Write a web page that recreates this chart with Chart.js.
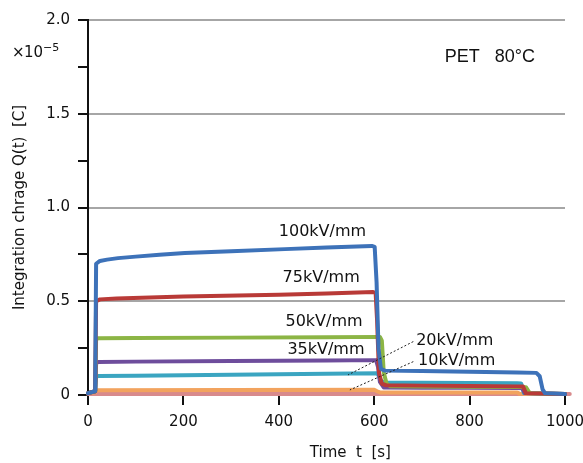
<!DOCTYPE html>
<html>
<head>
<meta charset="utf-8">
<script src="https://cdn.jsdelivr.net/npm/chart.js@4.4.1/dist/chart.umd.min.js"></script>
<style>
  html, body { margin: 0; padding: 0; background: #fff; }
  #wrap { width: 583px; height: 463px; }
</style>
</head>
<body>
<div id="wrap"><canvas id="chart" width="583" height="463"></canvas></div>
<script>
// time points [s] and charge values [x1e-5 C]
const t100 = [0, 15, 17, 25, 40, 63, 100, 150, 203, 300, 413, 500, 595, 601, 605, 609, 614, 622, 700, 800, 900, 940, 947, 953, 958, 1000];
const q100 = [0.01, 0.02, 0.70, 0.715, 0.722, 0.73, 0.738, 0.748, 0.757, 0.767, 0.778, 0.787, 0.795, 0.79, 0.6, 0.25, 0.14, 0.13, 0.128, 0.124, 0.12, 0.118, 0.1, 0.03, 0.01, 0.005];

const t75 = [0, 15, 17, 25, 60, 200, 400, 500, 598, 603, 606, 610, 616, 625, 700, 800, 900, 912, 918, 1000];
const q75 = [0.01, 0.02, 0.5, 0.51, 0.515, 0.525, 0.535, 0.541, 0.549, 0.545, 0.4, 0.12, 0.06, 0.052, 0.05, 0.048, 0.046, 0.045, 0.01, 0.005];

const t50 = [0, 15, 17, 22, 100, 300, 500, 612, 616, 620, 626, 634, 700, 800, 900, 918, 926, 1000];
const q50 = [0.01, 0.02, 0.3, 0.303, 0.304, 0.306, 0.308, 0.31, 0.29, 0.12, 0.06, 0.046, 0.045, 0.044, 0.043, 0.042, 0.01, 0.005];

const t35 = [0, 15, 17, 22, 100, 300, 500, 604, 608, 612, 620, 700, 800, 900, 910, 916, 1000];
const q35 = [0.01, 0.02, 0.17, 0.176, 0.178, 0.181, 0.184, 0.186, 0.15, 0.07, 0.04, 0.039, 0.038, 0.037, 0.036, 0.01, 0.005];

const t20 = [0, 15, 17, 22, 100, 300, 500, 606, 610, 614, 622, 700, 800, 900, 908, 914, 1000];
const q20 = [0.01, 0.02, 0.098, 0.101, 0.103, 0.108, 0.113, 0.116, 0.1, 0.075, 0.066, 0.065, 0.064, 0.063, 0.062, 0.01, 0.005];

const t10 = [0, 15, 17, 300, 600, 606, 612, 900, 905, 1000];
const q10 = [0.01, 0.015, 0.026, 0.027, 0.028, 0.02, 0.014, 0.013, 0.006, 0.005];

const tBase = [0, 1010];
const qBase = [0.006, 0.006];

const seriesLabels = ['100kV/mm', '75kV/mm', '50kV/mm', '35kV/mm', '20kV/mm', '10kV/mm', '0kV/mm'];
const seriesColors = ['#3d72b9', '#b93a37', '#8cb545', '#6e4d9c', '#3ba5c1', '#f2a35e', '#d88a8c'];

// annotation text placed in data coordinates
const notes = [
  { text: '100kV/mm', t: 400, q: 0.87 },
  { text: '75kV/mm', t: 408, q: 0.625 },
  { text: '50kV/mm', t: 414, q: 0.39 },
  { text: '35kV/mm', t: 418, q: 0.24 },
  { text: '20kV/mm', t: 688, q: 0.288 },
  { text: '10kV/mm', t: 692, q: 0.182 }
];
const leaders = [
  { t1: 682, q1: 0.285, t2: 545, q2: 0.107 },
  { t1: 682, q1: 0.178, t2: 549, q2: 0.027 }
];

const FONT = '"DejaVu Sans", sans-serif';

function pts(ts, qs) {
  let out = [];
  for (let i = 0; i < ts.length; i++) out.push({ x: ts[i], y: qs[i] });
  return out;
}

const allSeries = [pts(t100, q100), pts(t75, q75), pts(t50, q50), pts(t35, q35), pts(t20, q20), pts(t10, q10), pts(tBase, qBase)];

const notesPlugin = {
  id: 'notes',
  afterDatasetsDraw(chart) {
    const ctx = chart.ctx;
    const xs = chart.scales.x, ys = chart.scales.y;
    const ca = chart.chartArea;
    ctx.save();
    ctx.fillStyle = '#111';
    ctx.font = '16px ' + FONT;
    ctx.textBaseline = 'middle';
    ctx.textAlign = 'left';
    notes.forEach(n => ctx.fillText(n.text, xs.getPixelForValue(n.t), ys.getPixelForValue(n.q)));

    ctx.strokeStyle = '#222';
    ctx.lineWidth = 1;
    ctx.setLineDash([2, 2]);
    leaders.forEach(l => {
      ctx.beginPath();
      ctx.moveTo(xs.getPixelForValue(l.t1), ys.getPixelForValue(l.q1));
      ctx.lineTo(xs.getPixelForValue(l.t2), ys.getPixelForValue(l.q2));
      ctx.stroke();
    });
    ctx.setLineDash([]);

    ctx.font = '18px "Liberation Sans", sans-serif';
    ctx.fillText('PET   80\u00B0C', xs.getPixelForValue(748), ys.getPixelForValue(1.8));

    // x axis title, sits a bit right of centre in the original
    ctx.font = '15px ' + FONT;
    ctx.textAlign = 'center';
    ctx.fillText('Time  t  [s]', xs.getPixelForValue(550), ca.bottom + 58);

    // exponent under the top tick
    ctx.textAlign = 'left';
    ctx.fillText('\u00D7', ca.left - 76, ca.top + 33);
    ctx.fillText('10', ca.left - 64, ca.top + 33);
    ctx.font = '11px ' + FONT;
    ctx.fillText('\u22125', ca.left - 45, ca.top + 28);
    ctx.restore();
  }
};

new Chart(document.getElementById('chart'), {
  type: 'line',
  data: {
    datasets: allSeries.map((d, i) => ({
      label: seriesLabels[i],
      data: d,
      borderColor: seriesColors[i],
      backgroundColor: seriesColors[i],
      borderWidth: 4,
      pointRadius: 0,
      tension: 0,
      borderJoinStyle: 'round',
      borderCapStyle: 'round',
      fill: false,
      clip: false
    }))
  },
  options: {
    responsive: false,
    animation: false,
    layout: { padding: { top: 20, right: 18, left: 0, bottom: 0 } },
    plugins: {
      legend: { display: false },
      tooltip: { enabled: false }
    },
    scales: {
      x: {
        type: 'linear',
        min: 0,
        max: 1000,
        ticks: {
          stepSize: 200,
          color: '#111',
          font: { family: FONT, size: 15 },
          padding: 8,
          maxRotation: 0,
          callback(v) { return String(v); }
        },
        grid: {
          drawOnChartArea: false,
          tickLength: 10,
          tickColor: '#111',
          lineWidth: 2
        },
        border: { color: '#666', width: 2 },
        afterFit(scale) {
          scale.height = 68;
          scale.paddingLeft = 0;
          scale.paddingRight = 0;
        }
      },
      y: {
        min: 0,
        max: 2.0,
        ticks: {
          stepSize: 0.25,
          color: '#111',
          font: { family: FONT, size: 15 },
          padding: 8,
          callback(v) {
            if (Math.abs(v) < 1e-9) return '0';
            if (Math.abs(v * 2 - Math.round(v * 2)) < 1e-9) return v.toFixed(1);
            return '';
          }
        },
        grid: {
          color(c) {
            const v = c.tick ? c.tick.value : 0;
            if (v === 0) return 'rgba(0,0,0,0)';
            return Math.abs(v * 2 - Math.round(v * 2)) < 1e-9 ? '#a6a6a6' : 'rgba(0,0,0,0)';
          },
          lineWidth: 2,
          tickLength: 10,
          tickColor: '#111'
        },
        border: { color: '#111', width: 2 },
        title: {
          display: true,
          text: 'Integration chrage Q(t)  [C]',
          color: '#111',
          font: { family: FONT, size: 15 },
          padding: { top: 11, bottom: 0 }
        },
        afterFit(scale) {
          scale.width = 88;
          scale.paddingTop = 0;
          scale.paddingBottom = 0;
        }
      }
    }
  },
  plugins: [notesPlugin]
});
</script>
</body>
</html>
